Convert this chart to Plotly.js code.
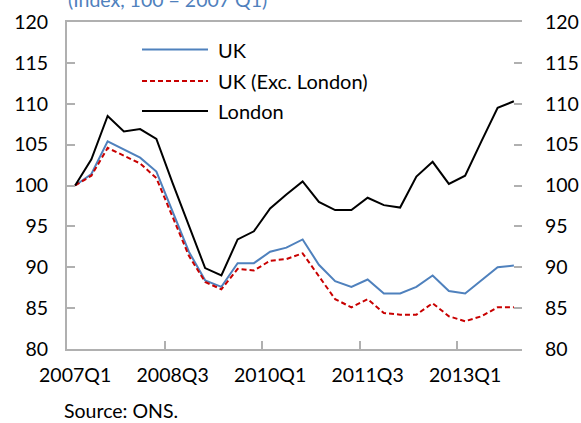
<!DOCTYPE html>
<html><head><meta charset="utf-8">
<script src="https://cdn.plot.ly/plotly-3.0.1.min.js"></script>
<style>body{margin:0;padding:0;background:#fff}#chart{width:581px;height:423px}</style>
</head><body><div id="chart"></div>
<script>
const quarters = ["2007Q1","2007Q2","2007Q3","2007Q4","2008Q1","2008Q2","2008Q3","2008Q4",
"2009Q1","2009Q2","2009Q3","2009Q4","2010Q1","2010Q2","2010Q3","2010Q4",
"2011Q1","2011Q2","2011Q3","2011Q4","2012Q1","2012Q2","2012Q3","2012Q4",
"2013Q1","2013Q2","2013Q3","2013Q4"];
const uk = [100,101.4,105.4,104.4,103.4,101.7,96.8,91.9,88.4,87.6,90.5,90.5,91.9,92.4,93.4,90.3,88.3,87.6,88.5,86.8,86.8,87.6,89.0,87.1,86.8,88.4,90.0,90.2];
const ukExLondon = [100,101.2,104.6,103.6,102.7,100.9,96.2,91.4,88.2,87.3,89.8,89.6,90.8,91.0,91.7,88.9,86.1,85.1,86.1,84.4,84.2,84.2,85.6,84.0,83.4,84.0,85.1,85.1];
const london = [100,103.2,108.5,106.6,106.9,105.7,100.3,95.2,89.9,89.0,93.4,94.4,97.2,98.9,100.5,98.0,97.0,97.0,98.5,97.6,97.3,101.1,102.9,100.2,101.2,105.4,109.5,110.3];
const tickLabels = ["2007Q1","2008Q3","2010Q1","2011Q3","2013Q1"];
const seriesNames = ["UK","UK (Exc. London)","London"];
const seriesColors = ['#4f81bd','#c80000','#000000'];
const seriesDash = ['solid','5px,3px','solid'];

const idx = quarters.map((q,i)=>i);
const tickIdx = tickLabels.map(t=>quarters.indexOf(t));
const font = "Lato, 'Open Sans', sans-serif";
const FS = 19.5;
const seriesData = [uk, ukExLondon, london];

const traces = seriesData.map((d,k)=>({x: idx, y: d, name: seriesNames[k], mode:'lines', showlegend:false,
  line:{color:seriesColors[k], width:2, dash:seriesDash[k]}}));
traces.push({x: idx, y: london, yaxis:'y2', mode:'lines', line:{width:0}, showlegend:false, hoverinfo:'skip', opacity:0});

// manual legend (paper coordinates)
const PL=67, PW=455, PB=349, PH=327;
const px = v => (v-PL)/PW, py = v => (PB-v)/PH;
const legRows = [49.5, 81, 111];
const shapes = seriesNames.map((n,k)=>({type:'line', xref:'paper', yref:'paper', x0:px(142), x1:px(208), y0:py(legRows[k]), y1:py(legRows[k]),
  line:{color:seriesColors[k], width:2, dash:seriesDash[k]}}));
const annotations = seriesNames.map((n,k)=>({text:n, xref:'paper', yref:'paper', x:px(216), y:py(legRows[k]), xanchor:'left', yanchor:'middle',
  showarrow:false, font:{size:20, color:'#000', family:font}}));
annotations.push(
  {text:'(Index, 100 = 2007 Q1)', xref:'paper', yref:'paper', x:-0.002, y:1.0, yshift:23, xanchor:'left', yanchor:'middle',
   showarrow:false, font:{size:FS, color:'#4f81bd', family:font}},
  {text:'Source: ONS.', xref:'paper', yref:'paper', x:-0.01, y:0, yshift:-61, xanchor:'left', yanchor:'middle',
   showarrow:false, font:{size:FS, color:'#000', family:font}}
);

const layout = {
 width:581, height:423,
 margin:{l:67, r:59, t:22, b:74},
 paper_bgcolor:'#fff', plot_bgcolor:'#fff',
 font:{family:font, size:FS, color:'#000'},
 showlegend:false,
 xaxis:{range:[-0.5,27.5], tickvals:tickIdx, ticktext:tickLabels, ticks:'', showgrid:false, zeroline:false,
   showline:true, linecolor:'#b0b0b0', linewidth:2, mirror:true, ticklabelstandoff:8,
   minor:{tickvals:[5.5,11.5,17.5,23.5], ticks:'inside', ticklen:8, tickcolor:'#b0b0b0', tickwidth:2, showgrid:false}},
 yaxis:{range:[80,120], dtick:5, ticks:'inside', ticklen:8, tickcolor:'#b0b0b0', tickwidth:2, showgrid:false, zeroline:false,
   showline:true, linecolor:'#b0b0b0', linewidth:2, ticklabelstandoff:13},
 yaxis2:{range:[80,120], dtick:5, overlaying:'y', side:'right', ticks:'inside', ticklen:8, tickcolor:'#b0b0b0', tickwidth:2,
   showgrid:false, zeroline:false, showline:false, ticklabelstandoff:22},
 shapes: shapes,
 annotations: annotations
};
Plotly.newPlot('chart', traces, layout, {displayModeBar:false, staticPlot:true});
</script></body></html>
